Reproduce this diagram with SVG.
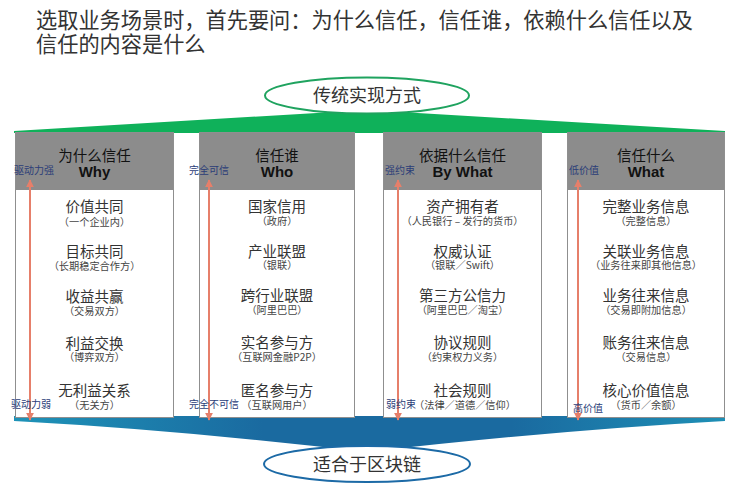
<svg xmlns="http://www.w3.org/2000/svg" width="740" height="483" viewBox="0 0 740 483">
<style>
  .cjk{font-family:"Noto Sans CJK SC","Liberation Sans",sans-serif}
  .title{font-size:21.2px;fill:#333}
  .hd{font-size:14.5px;fill:#111;text-anchor:middle}
  .en{font-family:"Liberation Sans",Arial,sans-serif;font-size:15px;font-weight:bold;fill:#111;text-anchor:middle}
  .main{font-size:14.5px;fill:#333;text-anchor:middle}
  .sub{font-size:10.2px;fill:#444;text-anchor:middle}
  .side{font-size:10px;fill:#2b3d78}
  .box{fill:#fff;stroke:#8f8f8f;stroke-width:1}
  .head{fill:#8c8c8c}
  .arr{stroke:#e67f6a;stroke-width:2;fill:none;marker-start:url(#ah);marker-end:url(#ah)}
  .ell{fill:#fff;stroke-width:2}
  .elt{font-size:18px;fill:#333;text-anchor:middle}
</style>
<defs>
  <marker id="ah" viewBox="0 0 10 10" refX="9" refY="5" markerWidth="4" markerHeight="4" orient="auto-start-reverse">
    <path d="M0,0 L10,5 L0,10 z" fill="#e67f6a"/>
  </marker>
  <linearGradient id="blue" x1="0" y1="0" x2="1" y2="0">
    <stop offset="0" stop-color="#1e93b8"/>
    <stop offset="0.35" stop-color="#1a6aa0"/>
    <stop offset="0.7" stop-color="#1a6aa0"/>
    <stop offset="1" stop-color="#1e8fb5"/>
  </linearGradient>
</defs>

<g id="title" class="cjk">
  <text class="title" x="36" y="28">选取业务场景时，首先要问：为什么信任，信任谁，依赖什么信任以及</text>
  <text class="title" x="36" y="52">信任的内容是什么</text>
</g>

<g id="connectors">
  <polygon points="367,110 725,131 725,133 14,133 14,131" fill="#0fb15a"/>
  <path d="M14,416 L725,416 L725,421 Q560,430 367,452 Q180,430 14,421 Z" fill="url(#blue)"/>
</g>

<g id="top-ellipse">
  <ellipse class="ell" cx="367" cy="95.5" rx="102" ry="18" stroke="#1fa35f"/>
  <text class="cjk elt" x="367" y="102">传统实现方式</text>
</g>

<g id="col-why">
  <rect class="box" x="15.5" y="132.5" width="158" height="285"/>
  <rect class="head" x="16" y="133" width="157" height="57"/>
  <text class="cjk hd" x="94.5" y="161">为什么信任</text>
  <text class="en" x="94.5" y="177">Why</text>
  <line class="arr" x1="30" y1="180" x2="30" y2="420"/>
  <text class="cjk side" x="14" y="174">驱动力强</text>
  <text class="cjk side" x="11" y="408">驱动力弱</text>
  <text class="cjk main" x="94.5" y="211.5">价值共同</text>
  <text class="cjk sub" x="94.5" y="225.5">（一个企业内）</text>
  <text class="cjk main" x="94.5" y="256.5">目标共同</text>
  <text class="cjk sub" x="94.5" y="269.5">（长期稳定合作方）</text>
  <text class="cjk main" x="94.5" y="301.5">收益共赢</text>
  <text class="cjk sub" x="94.5" y="314.5">（交易双方）</text>
  <text class="cjk main" x="94.5" y="348.5">利益交换</text>
  <text class="cjk sub" x="94.5" y="360.5">（博弈双方）</text>
  <text class="cjk main" x="94.5" y="395.5">无利益关系</text>
  <text class="cjk sub" x="94.5" y="408.5">（无关方）</text>
</g>

<g id="col-who">
  <rect class="box" x="199.5" y="132.5" width="155" height="285"/>
  <rect class="head" x="200" y="133" width="154" height="57"/>
  <text class="cjk hd" x="277" y="161">信任谁</text>
  <text class="en" x="277" y="177">Who</text>
  <line class="arr" x1="209" y1="180" x2="209" y2="420"/>
  <text class="cjk side" x="189" y="174">完全可信</text>
  <text class="cjk side" x="189" y="408">完全不可信</text>
  <text class="cjk main" x="277" y="211.5">国家信用</text>
  <text class="cjk sub" x="277" y="224.5">（政府）</text>
  <text class="cjk main" x="277" y="256.5">产业联盟</text>
  <text class="cjk sub" x="277" y="268.5">（银联）</text>
  <text class="cjk main" x="277" y="300.5">跨行业联盟</text>
  <text class="cjk sub" x="277" y="313.5">（阿里巴巴）</text>
  <text class="cjk main" x="277" y="347.5">实名参与方</text>
  <text class="cjk sub" x="277" y="360.5">（互联网金融P2P）</text>
  <text class="cjk main" x="277" y="395.5">匿名参与方</text>
  <text class="cjk sub" x="277" y="408.5">（互联网用户）</text>
</g>

<g id="col-bywhat">
  <rect class="box" x="383.5" y="132.5" width="158" height="285"/>
  <rect class="head" x="384" y="133" width="157" height="57"/>
  <text class="cjk hd" x="462.5" y="161">依据什么信任</text>
  <text class="en" x="462.5" y="177">By What</text>
  <line class="arr" x1="398" y1="180" x2="398" y2="420"/>
  <text class="cjk side" x="385" y="174">强约束</text>
  <text class="cjk side" x="386" y="408">弱约束</text>
  <text class="cjk main" x="462.5" y="211.5">资产拥有者</text>
  <text class="cjk sub" x="462.5" y="224.5">（人民银行 – 发行的货币）</text>
  <text class="cjk main" x="462.5" y="256.5">权威认证</text>
  <text class="cjk sub" x="462.5" y="268.5">（银联／Swift）</text>
  <text class="cjk main" x="462.5" y="300.5">第三方公信力</text>
  <text class="cjk sub" x="462.5" y="313.5">（阿里巴巴／淘宝）</text>
  <text class="cjk main" x="462.5" y="347.5">协议规则</text>
  <text class="cjk sub" x="462.5" y="360.5">（约束权力义务）</text>
  <text class="cjk main" x="462.5" y="395.5">社会规则</text>
  <text class="cjk sub" x="465" y="408.5">（法律／道德／信仰）</text>
</g>

<g id="col-what">
  <rect class="box" x="567.5" y="132.5" width="157" height="285"/>
  <rect class="head" x="568" y="133" width="156" height="57"/>
  <text class="cjk hd" x="646" y="161">信任什么</text>
  <text class="en" x="646" y="177">What</text>
  <line class="arr" x1="578" y1="180" x2="578" y2="420"/>
  <text class="cjk side" x="569" y="174">低价值</text>
  <text class="cjk side" x="573" y="412">高价值</text>
  <text class="cjk main" x="646" y="211.5">完整业务信息</text>
  <text class="cjk sub" x="646" y="224.5">（完整信息）</text>
  <text class="cjk main" x="646" y="256.5">关联业务信息</text>
  <text class="cjk sub" x="646" y="268.5">（业务往来即其他信息）</text>
  <text class="cjk main" x="646" y="300.5">业务往来信息</text>
  <text class="cjk sub" x="646" y="313.5">（交易即附加信息）</text>
  <text class="cjk main" x="646" y="347.5">账务往来信息</text>
  <text class="cjk sub" x="646" y="360.5">（交易信息）</text>
  <text class="cjk main" x="646" y="395.5">核心价值信息</text>
  <text class="cjk sub" x="646" y="408.5">（货币／余额）</text>
</g>

<g id="bottom-ellipse">
  <ellipse class="ell" cx="367" cy="464" rx="103" ry="18" stroke="#1c6aa6"/>
  <text class="cjk elt" x="367" y="470.5">适合于区块链</text>
</g>
</svg>
